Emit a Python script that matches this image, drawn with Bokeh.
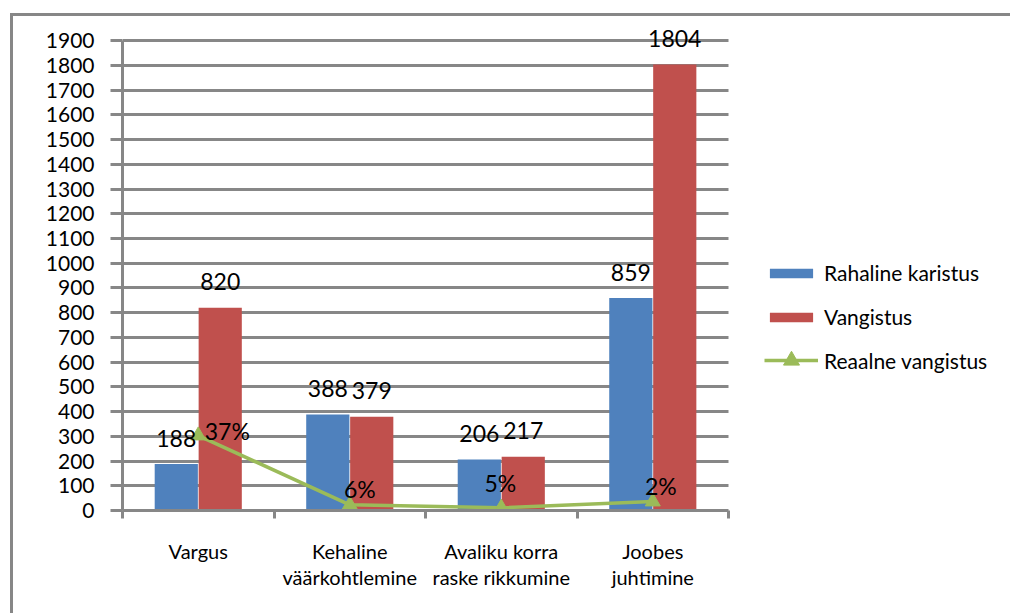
import numpy as np
from bokeh.plotting import figure
from bokeh.models import ColumnDataSource, FixedTicker, Legend, LegendItem, Range1d
from bokeh.transform import dodge
from bokeh.embed import file_html
from bokeh.resources import INLINE

categories = ["Vargus", "Kehaline väärkohtlemine", "Avaliku korra raske rikkumine", "Joobes juhtimine"]
category_labels = ["Vargus", "Kehaline\nväärkohtlemine", "Avaliku korra\nraske rikkumine", "Joobes\njuhtimine"]
rahaline = [188, 388, 206, 859]
vangistus = [820, 379, 217, 1804]
reaalne = [303, 23, 11, 36]
reaalne_pct = ["37%", "6%", "5%", "2%"]
y_ticks = list(range(0, 2000, 100))

# label placement offsets (pixels) for the percentage labels
pct_dx = [29, 10, -1, 8]
pct_dy = [-5, -16, -25, -16]

FONT = "Lato"
GRID = "#878787"
BLUE = "#4F81BD"
RED = "#C0504D"
GREEN = "#9BBB59"

n = len(categories)
xc = list(np.arange(n) + 0.5)
src = ColumnDataSource(dict(
    x=xc, cat=categories, rahaline=rahaline, vangistus=vangistus, reaalne=reaalne,
    r_txt=[str(v) for v in rahaline], v_txt=[str(v) for v in vangistus],
    pct=reaalne_pct, dx=pct_dx, dy=pct_dy,
))

W_FIG, H_FIG = 997, 597
LEFT, RIGHT, TOP, BOTTOM = 109, 4, 0, 106
plot_w = W_FIG - LEFT - RIGHT
x_end = n * plot_w / 604.0          # category area is 604 px wide; the rest holds the legend
y_end = 1900 * (H_FIG - BOTTOM - TOP) / 467.0   # 1900 sits 467 px above the baseline

p = figure(width=W_FIG, height=H_FIG, x_range=Range1d(0, x_end), y_range=Range1d(0, y_end),
           output_backend="svg", toolbar_location=None,
           min_border_left=LEFT, min_border_top=TOP, min_border_right=RIGHT, min_border_bottom=BOTTOM)
p.styles = {"position": "relative", "top": "13px", "left": "10px", "box-sizing": "content-box",
            "border-left": f"3px solid {GRID}", "border-top": f"3px solid {GRID}"}
p.outline_line_color = None
p.background_fill_color = "white"
p.border_fill_color = "white"

W = 0.285
r_blue = p.vbar(x=dodge("x", -0.145), top="rahaline", width=W, source=src, fill_color=BLUE, line_color=None)
r_red = p.vbar(x=dodge("x", 0.145), top="vangistus", width=W, source=src, fill_color=RED, line_color=None)
r_line = p.line(x="x", y="reaalne", source=src, line_color=GREEN, line_width=3.5)
r_pts = p.scatter(x="x", y="reaalne", source=src, marker="triangle", size=15, fill_color=GREEN, line_color=GREEN)

p.text(x=dodge("x", -0.145), y="rahaline", text="r_txt", source=src, text_align="center", text_baseline="middle",
       y_offset=-26, text_font_size="23px", text_font={"value": FONT}, text_color="black")
p.text(x=dodge("x", 0.145), y="vangistus", text="v_txt", source=src, text_align="center", text_baseline="middle",
       y_offset=-26, text_font_size="23px", text_font={"value": FONT}, text_color="black")
p.text(x="x", y="reaalne", text="pct", source=src, text_align="center", text_baseline="middle",
       x_offset="dx", y_offset="dy", text_font_size="23px", text_font={"value": FONT}, text_color="black")

# axes
xa = p.xaxis[0]
xa.ticker = FixedTicker(ticks=xc, minor_ticks=list(range(n + 1)))
xa.bounds = (0, n)
xa.major_label_overrides = {float(v): lab for v, lab in zip(xc, category_labels)}
xa.major_tick_out = 0
xa.major_tick_in = 0
xa.minor_tick_out = 8
xa.minor_tick_in = 0
xa.minor_tick_line_color = GRID
xa.minor_tick_line_width = 3
xa.axis_line_color = GRID
xa.axis_line_width = 3
xa.major_label_standoff = 20
xa.major_label_text_font = FONT
xa.major_label_text_font_size = "20px"
xa.major_label_text_color = "black"
xa.major_label_text_line_height = 1.1

ya = p.yaxis[0]
ya.ticker = FixedTicker(ticks=y_ticks, minor_ticks=[])
ya.bounds = (0, 1900)
ya.major_tick_out = 12
ya.major_tick_in = 0
ya.major_tick_line_color = GRID
ya.major_tick_line_width = 3
ya.axis_line_color = GRID
ya.axis_line_width = 3
ya.major_label_standoff = 16
ya.major_label_text_font = FONT
ya.major_label_text_font_size = "21px"
ya.major_label_text_color = "black"

p.xgrid.grid_line_color = None
p.ygrid.ticker = FixedTicker(ticks=y_ticks)
p.ygrid.cross_bounds = (0, n)
p.ygrid.grid_line_color = GRID
p.ygrid.grid_line_width = 3

common = dict(padding=0, margin=0, glyph_width=54, label_height=20, label_standoff=6,
              label_text_font=FONT, label_text_font_size="21px", label_text_color="black",
              border_line_color=None, background_fill_alpha=0)
legend_bars = Legend(items=[
    LegendItem(label="Rahaline karistus", renderers=[r_blue]),
    LegendItem(label="Vangistus", renderers=[r_red]),
], location=(642, 181), spacing=19, glyph_height=12, **common)
legend_line = Legend(items=[
    LegendItem(label="Reaalne vangistus", renderers=[r_line, r_pts]),
], location=(642, 130), glyph_height=40, **common)
p.add_layout(legend_bars, "center")
p.add_layout(legend_line, "center")

open("out.html", "w").write(file_html(p, INLINE))
